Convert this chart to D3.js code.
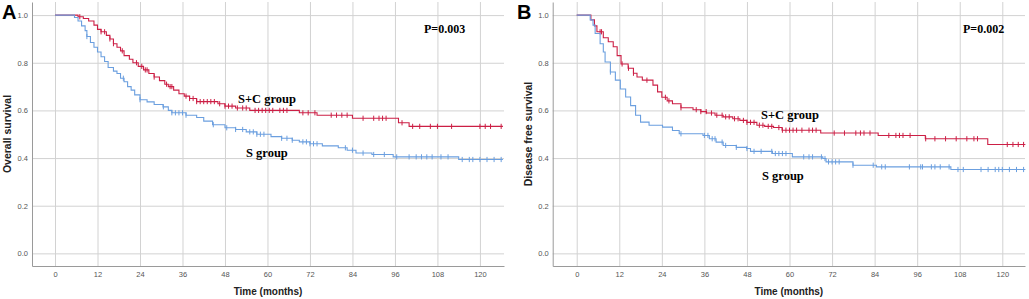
<!DOCTYPE html>
<html>
<head>
<meta charset="utf-8">
<script src="https://cdn.jsdelivr.net/npm/d3@7"></script>
<style>
  body { margin: 0; background: #fff; }
  svg { display: block; }
</style>
</head>
<body>
<div id="chart"></div>
<script>
// tick labels
var monthTicks = [0, 12, 24, 36, 48, 60, 72, 84, 96, 108, 120];
var survTicks = [0.0, 0.2, 0.4, 0.6, 0.8, 1.0];

// Panel A - overall survival, S+C group (step times / survival)
var osSCTime = [0, 6.5, 8, 9.5, 11, 12, 13, 14.5, 15.5, 16.5, 17.5, 18.5, 19.5, 21, 22, 23.5, 25, 26.5, 28, 29.5, 31, 32, 33.5, 35, 36.5, 38, 40, 46, 48, 51, 55, 69, 74, 84, 97, 100, 126.5];
var osSCSurv = [1, 0.993, 0.986, 0.975, 0.958, 0.94, 0.93, 0.915, 0.9, 0.88, 0.865, 0.85, 0.83, 0.815, 0.8, 0.785, 0.77, 0.755, 0.74, 0.725, 0.71, 0.7, 0.685, 0.67, 0.66, 0.65, 0.637, 0.628, 0.618, 0.61, 0.6, 0.59, 0.58, 0.567, 0.548, 0.533, 0.533];
var osSCCens = [7, 13, 14, 15.5, 16.5, 19, 23, 24.5, 25.5, 26, 28, 31.5, 32.5, 33, 37, 38, 39, 40, 41, 42, 43, 44, 45, 46.5, 48, 49, 50, 51.5, 53, 54, 56.5, 57.5, 58.5, 59.5, 60.5, 61.5, 63.5, 64.5, 65.5, 70, 71.5, 73.4, 78, 79.5, 81, 82.5, 87, 90, 91.5, 92.5, 93.5, 98, 101, 103, 106, 108, 112, 120, 121.5, 123, 126];

// Panel A - overall survival, S group
var osSTime = [0, 5.5, 6.5, 7.5, 8.5, 9, 10, 11, 12, 13, 14, 15, 16.5, 17.5, 18.5, 19.5, 20.5, 21.5, 22.5, 24, 26, 28, 30.5, 32, 33, 37, 40, 42, 44.5, 48, 51, 54, 57, 61, 64, 67, 69, 72, 75.5, 80, 82.5, 85, 89.5, 95.5, 114, 126.5];
var osSSurv = [1, 0.99, 0.975, 0.955, 0.935, 0.91, 0.885, 0.865, 0.845, 0.825, 0.805, 0.78, 0.765, 0.755, 0.735, 0.72, 0.7, 0.685, 0.665, 0.645, 0.636, 0.625, 0.615, 0.6, 0.59, 0.58, 0.57, 0.555, 0.54, 0.527, 0.52, 0.51, 0.5, 0.49, 0.483, 0.475, 0.468, 0.46, 0.451, 0.443, 0.433, 0.421, 0.415, 0.405, 0.394, 0.394];
var osSCens = [9, 19.3, 24, 30.6, 33, 34, 35, 36, 37, 44.7, 48.5, 51, 53, 55, 56, 57, 58, 59, 64, 65.5, 67, 70, 71, 72, 73, 74, 82, 84, 87, 90, 93, 96.5, 100, 102, 103.5, 105, 106.5, 109, 111, 115, 117, 118, 120, 122, 124, 126];

// Panel B - disease free survival, S+C group
var dfsSCTime = [0, 4, 5, 5.7, 7.5, 8.9, 10.3, 11.4, 12.5, 14.5, 16, 17, 18.5, 21.5, 22.8, 24, 25.5, 27, 29.4, 32.8, 35, 36.6, 39, 41.3, 44, 46, 48, 50.8, 53, 55.5, 57.9, 68.8, 85, 98.3, 115.9, 126.5];
var dfsSCSurv = [1, 0.98, 0.955, 0.93, 0.905, 0.888, 0.867, 0.83, 0.795, 0.777, 0.756, 0.74, 0.727, 0.706, 0.678, 0.655, 0.64, 0.628, 0.611, 0.603, 0.595, 0.589, 0.58, 0.573, 0.565, 0.558, 0.55, 0.538, 0.533, 0.528, 0.517, 0.505, 0.495, 0.481, 0.457, 0.457];
var dfsSCCens = [6.6, 7, 12.8, 14.6, 16, 19.8, 25, 26, 29.4, 33.7, 35, 36.5, 38, 39.5, 41, 42, 43, 44.5, 45.5, 47, 48, 49, 50, 51.5, 52.5, 54, 55, 57, 58, 59, 60, 61, 62, 63.5, 65.5, 66.5, 67.5, 72.6, 75.5, 78.7, 80, 81, 82.7, 88, 90, 91, 92, 94, 98.4, 101, 104, 107, 110, 112, 113, 121.4, 123, 124.5, 126];

// Panel B - disease free survival, S group
var dfsSTime = [0, 3.8, 4.6, 5.2, 6.6, 7.5, 8, 9.5, 10.9, 12.3, 13.8, 15.2, 16.6, 18, 20.4, 24.2, 27, 28.9, 35.6, 37.4, 39.3, 41.3, 45, 47.9, 49, 55.2, 60.8, 69.4, 70.3, 77.9, 84.5, 105.5, 126.5];
var dfsSSurv = [1, 0.98, 0.958, 0.923, 0.88, 0.845, 0.803, 0.761, 0.727, 0.69, 0.656, 0.62, 0.58, 0.551, 0.538, 0.53, 0.516, 0.502, 0.495, 0.481, 0.467, 0.453, 0.445, 0.44, 0.428, 0.419, 0.405, 0.398, 0.384, 0.37, 0.363, 0.352, 0.352];
var dfsSCens = [9.5, 29.4, 36, 37, 38.2, 39, 41, 42, 45, 48, 50, 52, 55, 56, 57, 58, 59, 64, 65.5, 66.5, 69, 70, 71, 72, 73, 74, 77.9, 83.6, 86, 87, 93.8, 97, 97.5, 100, 101, 102.5, 105, 107.5, 109, 114, 116, 118, 119, 120, 122, 124, 126];

var red = "#cc1f45";
var blue = "#6b9fdf";

var svg = d3.select("#chart").append("svg")
    .attr("width", 1029)
    .attr("height", 299);

function drawPanel(p) {
    var x = d3.scaleLinear().domain(p.xDomain).range(p.xRange);
    var y = d3.scaleLinear().domain([-0.053, 1.055]).range([266, 2]);

    var g = svg.append("g");

    // grid lines
    g.append("g")
        .attr("transform", "translate(0,266)")
        .call(d3.axisBottom(x).tickValues(monthTicks).tickSize(-264).tickFormat(""))
        .call(function(a) {
            a.select(".domain").remove();
            a.selectAll("line").attr("stroke", "#d2d2d2");
        });
    g.append("g")
        .attr("transform", "translate(" + p.xRange[0] + ",0)")
        .call(d3.axisLeft(y).tickValues(survTicks).tickSize(-(p.xRange[1] - p.xRange[0])).tickFormat(""))
        .call(function(a) {
            a.select(".domain").remove();
            a.selectAll("line").attr("stroke", "#d2d2d2");
        });

    // axes
    g.append("g")
        .attr("transform", "translate(0,266)")
        .call(d3.axisBottom(x).tickValues(monthTicks).tickSize(0).tickSizeOuter(0).tickPadding(6))
        .call(function(a) {
            a.select(".domain").attr("stroke", "#9a9a9a");
            a.selectAll("text").attr("fill", "#555").style("font", "7.5px Arial, 'Liberation Sans', sans-serif");
        });
    g.append("g")
        .attr("transform", "translate(" + p.xRange[0] + ",0)")
        .call(d3.axisLeft(y).tickValues(survTicks).tickSize(0).tickSizeOuter(0).tickPadding(4).tickFormat(d3.format(".1f")))
        .call(function(a) {
            a.select(".domain").attr("stroke", "#9a9a9a");
            a.selectAll("text").attr("fill", "#555").style("font", "7.5px Arial, 'Liberation Sans', sans-serif");
        });

    // curves
    var line = d3.line()
        .x(function(d) { return x(d[0]); })
        .y(function(d) { return y(d[1]); })
        .curve(d3.curveStepAfter);

    p.series.forEach(function(s) {
        var pts = s.time.map(function(t, i) { return [t, s.surv[i]]; });
        g.append("path")
            .datum(pts)
            .attr("fill", "none")
            .attr("stroke", s.color)
            .attr("stroke-width", 1.1)
            .attr("d", line);

        // censor marks
        g.selectAll(null)
            .data(s.cens)
            .enter()
            .append("line")
            .attr("x1", function(t) { return x(t); })
            .attr("x2", function(t) { return x(t); })
            .attr("y1", function(t) { return y(survAt(s, t)) - 2.6; })
            .attr("y2", function(t) { return y(survAt(s, t)) + 2.6; })
            .attr("stroke", s.color)
            .attr("stroke-width", 1);
    });

    // texts
    g.append("text")
        .attr("x", p.letterX).attr("y", 19)
        .style("font", "bold 20px Arial, 'Liberation Sans', sans-serif")
        .text(p.letter);

    g.append("text")
        .attr("transform", "translate(" + p.yTitleX + ",134) rotate(-90)")
        .attr("text-anchor", "middle")
        .style("font", "bold 10.5px Arial, 'Liberation Sans', sans-serif")
        .attr("fill", "#222")
        .text(p.yTitle);

    g.append("text")
        .attr("x", (p.xRange[0] + p.xRange[1]) / 2).attr("y", 295)
        .attr("text-anchor", "middle")
        .style("font", "bold 10px Arial, 'Liberation Sans', sans-serif")
        .attr("fill", "#222")
        .text("Time (months)");

    g.append("text")
        .attr("x", p.pX).attr("y", 33)
        .style("font", "bold 12px 'Times New Roman', 'Liberation Serif', serif")
        .text(p.pText);

    p.labels.forEach(function(l) {
        g.append("text")
            .attr("x", l.x).attr("y", l.y)
            .style("font", "bold 12.5px 'Times New Roman', 'Liberation Serif', serif")
            .text(l.text);
    });
}

function survAt(s, t) {
    var i = d3.bisectRight(s.time, t) - 1;
    return s.surv[Math.max(0, i)];
}

drawPanel({
    letter: "A", letterX: 2,
    xDomain: [-6.5, 126.8], xRange: [32, 504],
    yTitle: "Overall survival", yTitleX: 11,
    pText: "P=0.003", pX: 424,
    labels: [{ text: "S+C group", x: 238, y: 103 }, { text: "S group", x: 246, y: 157 }],
    series: [
        { time: osSCTime, surv: osSCSurv, cens: osSCCens, color: red },
        { time: osSTime, surv: osSSurv, cens: osSCens, color: blue }
    ]
});

drawPanel({
    letter: "B", letterX: 517,
    xDomain: [-6.77, 126.4], xRange: [552.7, 1025],
    yTitle: "Disease free survival", yTitleX: 531.5,
    pText: "P=0.002", pX: 963,
    labels: [{ text: "S+C group", x: 761, y: 119 }, { text: "S group", x: 762, y: 180 }],
    series: [
        { time: dfsSCTime, surv: dfsSCSurv, cens: dfsSCCens, color: red },
        { time: dfsSTime, surv: dfsSSurv, cens: dfsSCens, color: blue }
    ]
});
</script>
</body>
</html>
